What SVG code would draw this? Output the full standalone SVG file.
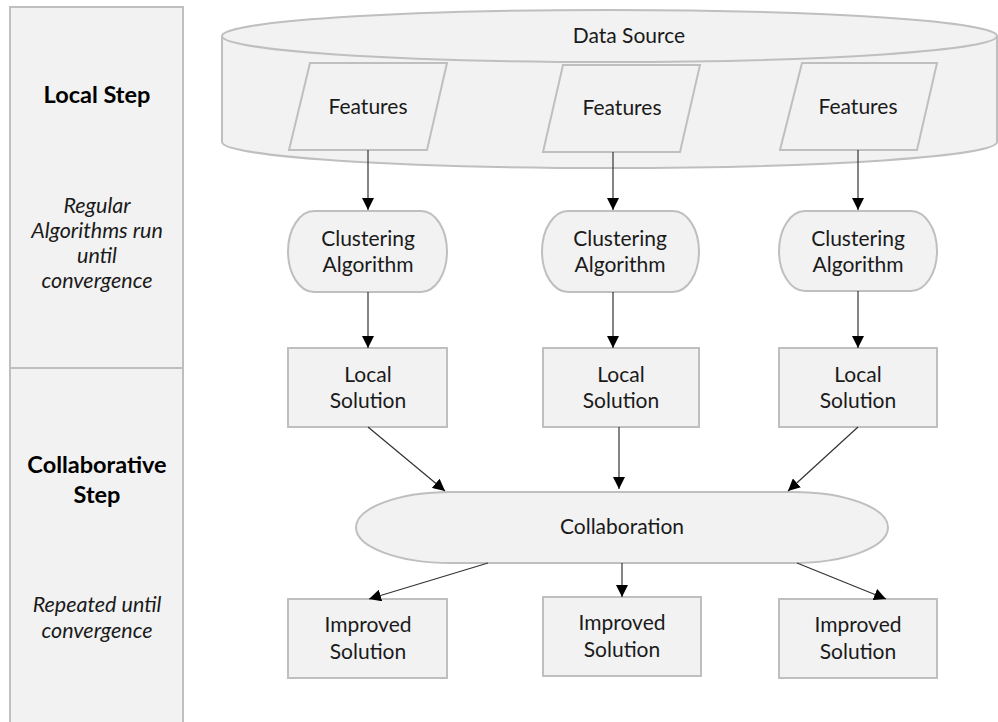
<svg xmlns="http://www.w3.org/2000/svg" width="998" height="722" viewBox="0 0 998 722">
  <style>
    .shape { fill: #f2f2f2; stroke: #bfbfbf; stroke-width: 2; }
    .lbl { font-family: Lato, "Open Sans", "Liberation Sans", sans-serif; font-size: 21px; fill: #1a1a1a; text-anchor: middle; }
    .head { font-family: Lato, "Open Sans", "Liberation Sans", sans-serif; font-size: 23.5px; font-weight: bold; fill: #000; text-anchor: middle; }
    .note { font-family: Lato, "Open Sans", "Liberation Sans", sans-serif; font-size: 21.5px; font-style: italic; fill: #1a1a1a; text-anchor: middle; }
    .conn { stroke: #333; stroke-width: 1.2; fill: none; marker-end: url(#arrow); }
  </style>
  <defs>
    <marker id="arrow" markerUnits="userSpaceOnUse" markerWidth="12" markerHeight="12" refX="12" refY="6" orient="auto">
      <path d="M0,0 L12,6 L0,12 z" fill="#000"/>
    </marker>
  </defs>

  <rect width="998" height="722" fill="#fff"/>

  <!-- swimlane headers -->
  <g id="lane-local">
    <rect class="shape" x="10" y="7" width="173" height="361"/>
    <text class="head" x="97" y="103">Local Step</text>
    <text class="note" x="97" y="213">Regular</text>
    <text class="note" x="97" y="238">Algorithms run</text>
    <text class="note" x="97" y="263">until</text>
    <text class="note" x="97" y="288">convergence</text>
  </g>
  <g id="lane-collab">
    <rect class="shape" x="10" y="368" width="173" height="370"/>
    <text class="head" x="97" y="473">Collaborative</text>
    <text class="head" x="97" y="503">Step</text>
    <text class="note" x="97" y="612">Repeated until</text>
    <text class="note" x="97" y="638">convergence</text>
  </g>

  <!-- data source cylinder -->
  <g id="data-source">
    <path class="shape" d="M222,36 A387.5,26 0 0 1 997,36 L997,142 A387.5,26 0 0 1 222,142 Z"/>
    <path class="shape" d="M222,36 A387.5,26 0 0 0 997,36" fill="none"/>
    <text class="lbl" x="629" y="43">Data Source</text>
  </g>

  <g id="features-1">
    <polygon class="shape" points="310,63 447,63 427,150 289,150"/>
    <text class="lbl" x="368" y="114">Features</text>
  </g>
  <g id="features-2">
    <polygon class="shape" points="563,65 700,65 680,152 543,152"/>
    <text class="lbl" x="622" y="115">Features</text>
  </g>
  <g id="features-3">
    <polygon class="shape" points="802,63 937,63 917,150 780,150"/>
    <text class="lbl" x="858" y="114">Features</text>
  </g>

  <!-- clustering -->
  <g id="clustering-1">
    <rect class="shape" x="288" y="211" width="159" height="81" rx="26" ry="40.5"/>
    <text class="lbl" x="368" y="246">Clustering</text>
    <text class="lbl" x="368" y="272">Algorithm</text>
  </g>
  <g id="clustering-2">
    <rect class="shape" x="542" y="211" width="157" height="81" rx="26" ry="40.5"/>
    <text class="lbl" x="620" y="246">Clustering</text>
    <text class="lbl" x="620" y="272">Algorithm</text>
  </g>
  <g id="clustering-3">
    <rect class="shape" x="779" y="211" width="158" height="80" rx="26" ry="40"/>
    <text class="lbl" x="858" y="246">Clustering</text>
    <text class="lbl" x="858" y="272">Algorithm</text>
  </g>

  <!-- local solutions -->
  <g id="local-1">
    <rect class="shape" x="288" y="348" width="159" height="79"/>
    <text class="lbl" x="368" y="382">Local</text>
    <text class="lbl" x="368" y="408">Solution</text>
  </g>
  <g id="local-2">
    <rect class="shape" x="543" y="348" width="156" height="79"/>
    <text class="lbl" x="621" y="382">Local</text>
    <text class="lbl" x="621" y="408">Solution</text>
  </g>
  <g id="local-3">
    <rect class="shape" x="779" y="348" width="158" height="79"/>
    <text class="lbl" x="858" y="382">Local</text>
    <text class="lbl" x="858" y="408">Solution</text>
  </g>

  <!-- collaboration -->
  <g id="collaboration">
    <rect class="shape" x="356" y="492" width="532" height="71" rx="95" ry="35.5"/>
    <text class="lbl" x="622" y="534">Collaboration</text>
  </g>

  <!-- improved solutions -->
  <g id="improved-1">
    <rect class="shape" x="288" y="599" width="159" height="79"/>
    <text class="lbl" x="368" y="632">Improved</text>
    <text class="lbl" x="368" y="659">Solution</text>
  </g>
  <g id="improved-2">
    <rect class="shape" x="543" y="597" width="158" height="79"/>
    <text class="lbl" x="622" y="630">Improved</text>
    <text class="lbl" x="622" y="657">Solution</text>
  </g>
  <g id="improved-3">
    <rect class="shape" x="779" y="599" width="158" height="79"/>
    <text class="lbl" x="858" y="632">Improved</text>
    <text class="lbl" x="858" y="659">Solution</text>
  </g>

  <!-- connectors -->
  <g id="connectors">
    <line class="conn" x1="368" y1="150" x2="368" y2="210"/>
    <line class="conn" x1="613" y1="152" x2="613" y2="210"/>
    <line class="conn" x1="858" y1="150" x2="858" y2="210"/>
    <line class="conn" x1="368" y1="292" x2="368" y2="348"/>
    <line class="conn" x1="613" y1="292" x2="613" y2="348"/>
    <line class="conn" x1="858" y1="291" x2="858" y2="348"/>
    <line class="conn" x1="368" y1="427" x2="445" y2="491"/>
    <line class="conn" x1="619" y1="427" x2="619" y2="489"/>
    <line class="conn" x1="858" y1="427" x2="788" y2="491"/>
    <line class="conn" x1="488" y1="563" x2="369" y2="599"/>
    <line class="conn" x1="622" y1="563" x2="622" y2="597"/>
    <line class="conn" x1="797" y1="563" x2="886" y2="599"/>
  </g>
</svg>
